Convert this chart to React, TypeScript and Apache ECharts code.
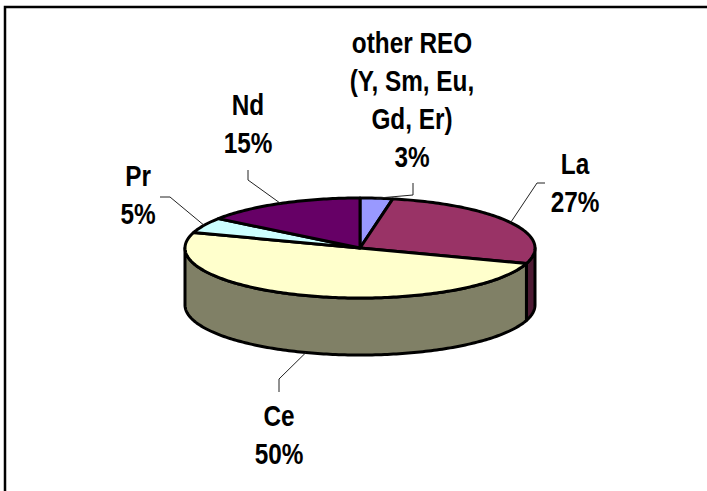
import React, { useEffect, useRef } from "react";
import * as echarts from "echarts";

// ---- data ----
const categories = ["other REO (Y, Sm, Eu, Gd, Er)", "La", "Ce", "Pr", "Nd"];
const values = [3, 27, 50, 5, 15];
const labelLines = [
  ["other REO", "(Y, Sm, Eu,", "Gd, Er)", "3%"],
  ["La", "27%"],
  ["Ce", "50%"],
  ["Pr", "5%"],
  ["Nd", "15%"],
];
const colors = ["#9999FF", "#993366", "#FFFFCC", "#CCFFFF", "#660066"];

// ---- layout (not data) ----
const CX = 360;
const CY = 248;
const RX = 175;
const RY = 50;
const DEPTH = 57;
const labelAnchors = [
  [412, 100],
  [575, 183],
  [279, 435],
  [138, 195],
  [248, 124],
];
const leaderElbows = [
  [[413, 195], [413, 183]],
  [[537, 183], [545, 183]],
  [[279, 379], [279, 392]],
  [[170, 197], [160, 197]],
  [[248, 180], [248, 170]],
];

const total = values.reduce((a, b) => a + b, 0);
const cumulative = values.map((_, i) => values.slice(0, i).reduce((a, b) => a + b, 0));

function pt(t: number, dy = 0): number[] {
  return [CX + RX * Math.sin(t), CY - RY * Math.cos(t) + dy];
}
function arc(t0: number, t1: number, dy: number): number[][] {
  const n = Math.max(2, Math.ceil(Math.abs(t1 - t0) / (Math.PI / 180)));
  const out: number[][] = [];
  for (let i = 0; i <= n; i++) out.push(pt(t0 + ((t1 - t0) * i) / n, dy));
  return out;
}
function darken(hex: string): string {
  const n = parseInt(hex.slice(1), 16);
  const r = Math.round(((n >> 16) & 255) * 0.5);
  const g = Math.round(((n >> 8) & 255) * 0.5);
  const b = Math.round((n & 255) * 0.5);
  return "#" + [r, g, b].map((v) => v.toString(16).padStart(2, "0")).join("");
}
function angles(i: number, v: number) {
  const t0 = (cumulative[i] / total) * Math.PI * 2;
  const t1 = t0 + (v / total) * Math.PI * 2;
  return [t0, t1];
}

export default function App() {
  const ref = useRef<HTMLDivElement>(null);
  useEffect(() => {
    if (!ref.current) return;
    const chart = echarts.init(ref.current, null, { renderer: "svg" });
    const data = values.map((v, i) => ({ name: categories[i], value: v }));
    chart.setOption({
      animation: false,
      backgroundColor: "#ffffff",
      graphic: [
        {
          type: "rect",
          shape: { x: 5, y: 7, width: 760, height: 540 },
          style: { fill: "none", stroke: "#000", lineWidth: 2.5 },
          silent: true,
        },
      ],
      series: [
        {
          type: "custom",
          name: "sides",
          coordinateSystem: "none",
          silent: true,
          data,
          renderItem: (params: any, api: any) => {
            const i = params.dataIndex;
            const [t0, t1] = angles(i, api.value(0));
            const a = Math.max(t0, Math.PI / 2);
            const b = Math.min(t1, (Math.PI * 3) / 2);
            if (b <= a) return { type: "group", children: [] };
            const pts = arc(a, b, 0).concat(arc(b, a, DEPTH));
            return {
              type: "polygon",
              shape: { points: pts },
              style: { fill: darken(colors[i]), stroke: "#000", lineWidth: 3, lineJoin: "round" },
            };
          },
        },
        {
          type: "custom",
          name: "tops",
          coordinateSystem: "none",
          silent: true,
          data,
          renderItem: (params: any, api: any) => {
            const i = params.dataIndex;
            const [t0, t1] = angles(i, api.value(0));
            const pts = [[CX, CY]].concat(arc(t0, t1, 0));
            return {
              type: "polygon",
              shape: { points: pts },
              style: { fill: colors[i], stroke: "#000", lineWidth: 3, lineJoin: "round" },
            };
          },
        },
        {
          type: "custom",
          name: "labels",
          coordinateSystem: "none",
          silent: true,
          data,
          renderItem: (params: any, api: any) => {
            const i = params.dataIndex;
            const [t0, t1] = angles(i, api.value(0));
            const tm = (t0 + t1) / 2;
            const start = pt(tm, Math.cos(tm) < 0 ? DEPTH : 0);
            const [elbow, end] = leaderElbows[i];
            const [lx, ly] = labelAnchors[i];
            return {
              type: "group",
              children: [
                {
                  type: "polyline",
                  shape: { points: [start, elbow, end] },
                  style: { fill: "none", stroke: "#222", lineWidth: 1 },
                },
                {
                  type: "text",
                  x: lx,
                  y: ly,
                  scaleX: 0.87,
                  scaleY: 1.03,
                  style: {
                    text: labelLines[i].join("\n"),
                    x: 0,
                    y: 0,
                    fill: "#000",
                    fontSize: 28,
                    fontWeight: "bold",
                    fontFamily: "Liberation Sans, Arial, sans-serif",
                    align: "center",
                    verticalAlign: "middle",
                    lineHeight: 37,
                  },
                },
              ],
            };
          },
        },
      ],
    });
    return () => chart.dispose();
  }, []);
  return (
    <div
      ref={ref}
      style={{ position: "fixed", left: 0, top: 0, width: 707, height: 491, background: "#fff" }}
    />
  );
}
